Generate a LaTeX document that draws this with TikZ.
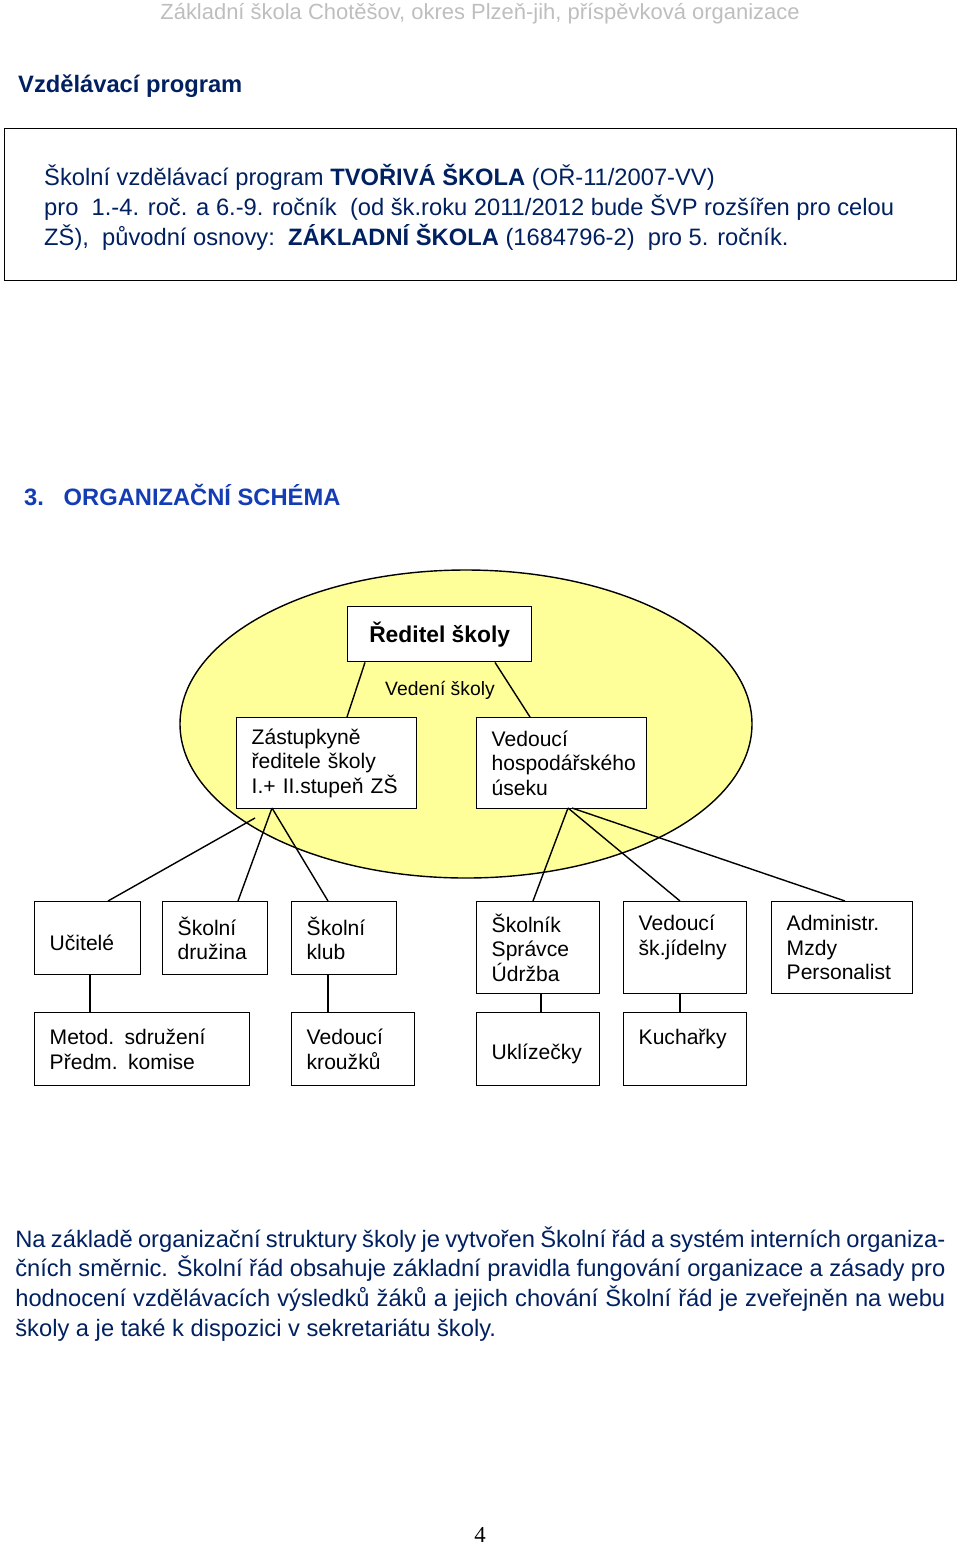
\documentclass[tikz,border=0pt]{standalone}
\usepackage{fontspec}
\setmainfont{Liberation Sans}
\newfontfamily\pagefont{Liberation Serif}
\usetikzlibrary{positioning}
\definecolor{headgray}{RGB}{190,190,190}
\definecolor{titleblue}{RGB}{0,32,96}
\definecolor{secblue}{RGB}{20,60,180}
\definecolor{ovalyellow}{RGB}{255,255,153}

\begin{document}
\begin{tikzpicture}[x=0.02cm,y=-0.02cm,
    unit/.style={draw,thick,fill=white,anchor=north west,align=left,
      inner xsep=0.3cm,font=\fontsize{12}{14}\selectfont},
    link/.style={thick}]
  \useasboundingbox (0,0) rectangle (960,1546);

  % header and intro
  \node[text=headgray,font=\fontsize{12.5}{15}\selectfont] (head) at (480,14)
    {Základní škola Chotěšov, okres Plzeň-jih, příspěvková organizace};
  \node[anchor=west,text=titleblue,font=\bfseries\fontsize{13.5}{16}\selectfont] (prog) at (12,86)
    {Vzdělávací program};
  \draw (4,128) rectangle (956,280);
  \node[anchor=north west,align=left,text=titleblue,
    font=\fontsize{13.5}{17}\selectfont] (svp) at (38,158)
    {Školní vzdělávací program \textbf{TVOŘIVÁ ŠKOLA} (OŘ-11/2007-VV)\\
     pro\ \ 1.-4. roč. a 6.-9. ročník\ \ (od šk.roku 2011/2012 bude ŠVP rozšířen pro celou\\
     ZŠ),\ \ původní osnovy:\ \ \textbf{ZÁKLADNÍ ŠKOLA} (1684796-2)\ \ pro 5. ročník.};
  \node[anchor=west,text=secblue,font=\bfseries\fontsize{13.5}{16}\selectfont] (sec) at (18,495)
    {3.\ \ \ ORGANIZAČNÍ SCHÉMA};

  % management oval
  \draw[thick,fill=ovalyellow] (466,724) ellipse (286 and 154);
  \node[unit,minimum width=184*0.02cm,minimum height=55*0.02cm,
    font=\bfseries\fontsize{13}{15}\selectfont,align=center] (red) at (347,606) {Ředitel školy};
  \node[font=\fontsize{11}{13}\selectfont] (veden) at (440,690) {Vedení školy};
  \node[unit,text width=150*0.02cm,minimum height=91*0.02cm] (zast) at (236,717)
    {Zástupkyně\\ředitele školy\\I.+ II.stupeň ZŠ};
  \node[unit,text width=140*0.02cm,minimum height=91*0.02cm] (hosp) at (476,717)
    {Vedoucí\\hospodářského\\úseku};
  \draw[link] ([xshift=18*0.02cm]red.south west) -- ([xshift=111*0.02cm]zast.north west);
  \draw[link] ([xshift=148*0.02cm]red.south west) -- ([xshift=54*0.02cm]hosp.north west);

  % first row
  \node[unit,text width=76*0.02cm,minimum height=73*0.02cm] (ucit) at (34,901) {\mbox{}\\Učitelé};
  \node[unit,text width=75*0.02cm,minimum height=73*0.02cm] (druz) at (162,901) {Školní\\družina};
  \node[unit,text width=75*0.02cm,minimum height=73*0.02cm] (klub) at (291,901) {Školní\\klub};
  \node[unit,text width=93*0.02cm,minimum height=92*0.02cm] (skol) at (476,901) {Školník\\Správce\\Údržba};
  \node[unit,text width=93*0.02cm,minimum height=92*0.02cm] (jid) at (623,901) {Vedoucí\\šk.jídelny\\\mbox{}};
  \node[unit,text width=111*0.02cm,minimum height=92*0.02cm] (adm) at (771,901) {Administr.\\Mzdy\\Personalist};

  % second row
  \node[unit,text width=185*0.02cm,minimum height=73*0.02cm] (metod) at (34,1012) {Metod. sdružení\\Předm. komise};
  \node[unit,text width=93*0.02cm,minimum height=73*0.02cm] (krouz) at (291,1012) {Vedoucí\\kroužků};
  \node[unit,text width=93*0.02cm,minimum height=73*0.02cm] (ukliz) at (476,1012) {\mbox{}\\Uklízečky};
  \node[unit,text width=93*0.02cm,minimum height=73*0.02cm] (kuch) at (623,1012) {Kuchařky\\\mbox{}};

  % connectors
  \coordinate (zl) at (255,818);
  \coordinate (zs) at (272,808);
  \coordinate (hs) at (568,808);
  \draw[link] (zl) -- ([xshift=74*0.02cm]ucit.north west);
  \draw[link] (zs) -- ([xshift=76*0.02cm]druz.north west);
  \draw[link] (zs) -- ([xshift=37*0.02cm]klub.north west);
  \draw[link] (hs) -- ([xshift=57*0.02cm]skol.north west);
  \draw[link] (hs) -- ([xshift=57*0.02cm]jid.north west);
  \draw[link] ([xshift=4*0.02cm]hs) -- ([xshift=74*0.02cm]adm.north west);
  \draw[link] ([xshift=56*0.02cm]ucit.south west) -- ([xshift=56*0.02cm]metod.north west);
  \draw[link] ([xshift=37*0.02cm]klub.south west) -- ([xshift=37*0.02cm]krouz.north west);
  \draw[link] ([xshift=65*0.02cm]skol.south west) -- ([xshift=65*0.02cm]ukliz.north west);
  \draw[link] ([xshift=57*0.02cm]jid.south west) -- ([xshift=57*0.02cm]kuch.north west);

  % closing paragraph
  \node[anchor=north west,text width=930*0.02cm,align=justify,text=titleblue,inner sep=0pt,
    font=\fontsize{13.5}{17}\selectfont] (para) at (15,1226)
    {Na základě organizační struktury školy je vytvořen Školní řád a systém interních
     organizačních směrnic. Školní řád obsahuje základní pravidla fungování organizace a
     zásady pro hodnocení vzdělávacích výsledků žáků a jejich chování Školní řád je
     zveřejněn na webu školy a je také k dispozici v sekretariátu školy.};
  \node[font=\pagefont\fontsize{13}{15}\selectfont] (pg) at (480,1535) {4};
\end{tikzpicture}
\end{document}
